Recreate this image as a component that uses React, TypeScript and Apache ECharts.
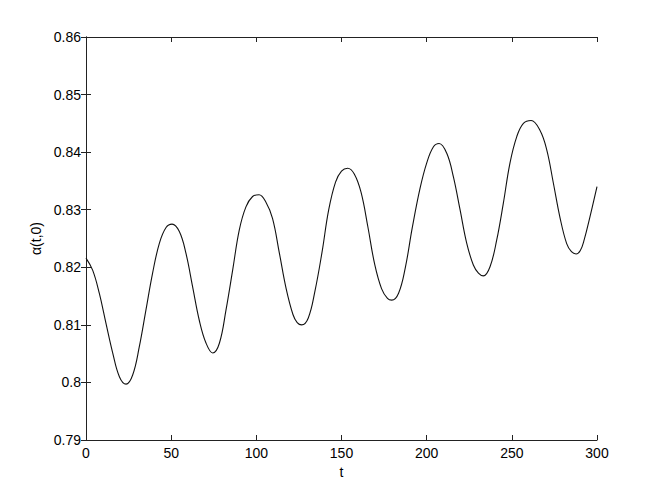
import React, { useEffect, useRef } from "react";
import * as echarts from "echarts";

const tValues = [
  0, 3.9, 7.8, 11.7, 15.7, 19.6, 23.5, 27.4, 31.3, 35.2, 39.1, 43.1, 47, 50.5,
  54.8, 58.7, 62.6, 66.5, 70.5, 74.4, 78.3, 82.2, 86.1, 90, 93.9, 97.8, 101.6,
  105.5, 109.5, 113.5, 117.5, 121.5, 124, 126.6, 130.5, 134.5, 138.5, 142.5,
  146.5, 150, 153.6, 157.5, 161.5, 165.5, 169.5, 173.5, 177, 179.5, 183.5,
  187.5, 191.5, 196.1, 200, 203.9, 207.3, 211.8, 215.7, 219.6, 223.5, 227.4,
  230.4, 233.3, 237.2, 241.1, 245, 248.9, 252.9, 256.8, 261.3, 266.5, 270.5,
  274.4, 278.3, 282.2, 285, 287.7, 290.2, 292.5, 295.9, 300,
];
const alphaValues = [
  0.8216, 0.8195, 0.8155, 0.8103, 0.8051, 0.801, 0.7997, 0.8013, 0.8062,
  0.8126, 0.819, 0.8242, 0.8269, 0.8275, 0.8262, 0.8224, 0.8166, 0.8108,
  0.8068, 0.8051, 0.8068, 0.8126, 0.8195, 0.8265, 0.8305, 0.8323, 0.8326,
  0.8314, 0.8285, 0.8225, 0.8163, 0.8118, 0.8104, 0.81, 0.8112, 0.816, 0.8225,
  0.83, 0.8348, 0.8367, 0.8372, 0.8362, 0.833, 0.827, 0.8205, 0.8163, 0.8146,
  0.8143, 0.8155, 0.82, 0.8268, 0.8337, 0.8381, 0.8409, 0.8415, 0.8398,
  0.8357, 0.83, 0.8242, 0.8204, 0.819, 0.8185, 0.8201, 0.8247, 0.8311, 0.8381,
  0.8427, 0.845, 0.8455, 0.8438, 0.8404, 0.8346, 0.8286, 0.8241, 0.8227,
  0.8223, 0.8229, 0.8248, 0.8288, 0.834,
];
const xTicks = [0, 50, 100, 150, 200, 250, 300];
const yTicks = [0.79, 0.8, 0.81, 0.82, 0.83, 0.84, 0.85, 0.86];

const FONT = "Liberation Sans";
const AX = "#222";

export default function App() {
  const ref = useRef<HTMLDivElement>(null);
  useEffect(() => {
    if (!ref.current) return;
    const chart = echarts.init(ref.current, undefined, { renderer: "svg" });
    const data = tValues.map((t, i) => [t, alphaValues[i]]);
    const common = {
      axisLine: { show: true, lineStyle: { color: AX, width: 1 } },
      axisTick: { show: true, inside: true, length: 5, lineStyle: { color: AX } },
      splitLine: { show: false },
    };
    chart.setOption({
      animation: false,
      backgroundColor: "#fff",
      textStyle: { fontFamily: FONT },
      grid: { left: 78, top: 29, width: 511, height: 403, containLabel: false },
      xAxis: [
        {
          type: "value",
          min: xTicks[0],
          max: xTicks[xTicks.length - 1],
          interval: 50,
          position: "bottom",
          ...common,
          axisLabel: { color: "#000", fontSize: 14, fontFamily: FONT, margin: 6 },
          name: "t",
          nameLocation: "middle",
          nameGap: 21,
          nameTextStyle: { color: "#000", fontSize: 14, fontFamily: FONT },
        },
        {
          type: "value",
          min: xTicks[0],
          max: xTicks[xTicks.length - 1],
          interval: 50,
          position: "top",
          ...common,
          axisLabel: { show: false },
        },
      ],
      yAxis: [
        {
          type: "value",
          min: yTicks[0],
          max: yTicks[yTicks.length - 1],
          interval: 0.01,
          position: "left",
          ...common,
          axisLabel: {
            color: "#000",
            fontSize: 14,
            fontFamily: FONT,
            margin: 5,
            formatter: (v: number) => String(+v.toFixed(2)),
          },
          name: "α(t,0)",
          nameLocation: "middle",
          nameGap: 40,
          nameTextStyle: { color: "#000", fontSize: 14, fontFamily: FONT },
        },
        {
          type: "value",
          min: yTicks[0],
          max: yTicks[yTicks.length - 1],
          interval: 0.01,
          position: "right",
          ...common,
          axisLabel: { show: false },
        },
      ],
      series: [
        {
          type: "line",
          data,
          smooth: 0.4,
          showSymbol: false,
          symbol: "none",
          lineStyle: { color: "#111", width: 1.1 },
          xAxisIndex: 0,
          yAxisIndex: 0,
        },
      ],
    });
    return () => chart.dispose();
  }, []);
  return <div ref={ref} style={{ width: 643, height: 479 }} />;
}
